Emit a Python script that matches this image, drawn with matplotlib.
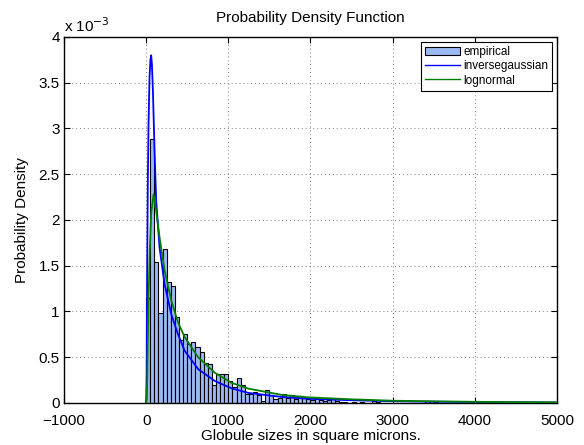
import numpy as np
import matplotlib
matplotlib.use('Agg')
import matplotlib.pyplot as plt
from matplotlib.patches import Patch
from matplotlib.lines import Line2D
from matplotlib.ticker import FuncFormatter

plt.rcParams['font.family'] = ['Liberation Sans', 'DejaVu Sans']

# histogram: bin width 50, starting at 0 (density, units 1e-3)
bin_width = 50
hist_heights = [1.15, 2.89, 1.54, 0.98, 1.68, 1.32, 1.28, 0.94, 0.69, 0.75,
                0.64, 0.67, 0.61, 0.56, 0.44, 0.43, 0.20, 0.32, 0.32, 0.32,
                0.24, 0.17, 0.27, 0.20, 0.095, 0.095, 0.12, 0.088, 0.02, 0.14,
                0.09, 0.04, 0.05, 0.10, 0.05, 0.09, 0.04, 0.08, 0.05, 0.04,
                0.03, 0.07, 0.03, 0.02, 0.03, 0.05, 0.02, 0.01, 0.01, 0.0,
                0.01, 0.0, 0.01, 0.0, 0.0, 0.02, 0.01, 0.0, 0.0, 0.0,
                0.0, 0.0, 0.0, 0.0, 0.0, 0.0, 0.0, 0.0, 0.02, 0.02, 0.01]

# fitted curves (x in square microns, y in 1e-3)
ig_x = [0, 6, 12, 20, 29, 41, 52, 61, 70, 82, 102, 122, 163, 224, 306, 388,
        469, 633, 837, 1041, 1245, 1653, 2000, 2500, 3000, 3500, 4000, 4500, 5000]
ig_y = [0, 0.3, 1.4, 2.4, 3.05, 3.56, 3.75, 3.80, 3.70, 3.42, 2.76, 2.21, 1.70,
        1.30, 0.97, 0.75, 0.57, 0.37, 0.24, 0.16, 0.11, 0.066, 0.045, 0.03,
        0.02, 0.014, 0.01, 0.008, 0.006]

ln_x = [0, 8, 14, 20, 30, 41, 61, 90, 122, 163, 224, 306, 388, 469, 633, 837,
        1041, 1245, 1653, 2000, 2500, 3000, 3500, 4000, 4500, 5000]
ln_y = [0, 0.05, 0.3, 0.68, 1.15, 1.59, 2.07, 2.28, 2.10, 1.81, 1.45, 1.12,
        0.88, 0.72, 0.50, 0.33, 0.22, 0.157, 0.088, 0.06, 0.04, 0.025, 0.018,
        0.013, 0.009, 0.007]

scale = 1e-3
edges = np.arange(len(hist_heights)) * bin_width
heights = np.array(hist_heights) * scale

fig = plt.figure(figsize=(5.84, 4.45), dpi=100)
ax = fig.add_axes([0.1096, 0.0944, 0.844, 0.8225])

ax.bar(edges, heights, width=bin_width, align='edge',
       facecolor='#9db9f5', edgecolor='black', linewidth=0.8, zorder=2)
ax.plot(ig_x, np.array(ig_y) * scale, color='#0000ff', lw=1.3, zorder=3)
ax.plot(ln_x, np.array(ln_y) * scale, color='#007f00', lw=1.3, zorder=3)

ax.set_xlim(-1000, 5000)
ax.set_ylim(0, 4e-3)
ax.set_xticks(np.arange(-1000, 5001, 1000))
ax.set_yticks(np.arange(0, 4.01e-3, 0.5e-3))
ax.yaxis.set_major_formatter(FuncFormatter(lambda v, p: '%g' % round(v / scale, 3)))
ax.xaxis.set_major_formatter(FuncFormatter(lambda v, p: ('%d' % v).replace('-', '\u2212')))
ax.tick_params(direction='in', top=True, right=True, labelsize=11, length=4, pad=3)
ax.tick_params(axis='x', pad=8)
ax.grid(True, linestyle=(0, (1, 3)), color='#808080', linewidth=0.7, zorder=0)
ax.set_axisbelow(True)
for s in ax.spines.values():
    s.set_linewidth(1.0)

ax.text(0.0, 1.005, 'x 10$^{-3}$', transform=ax.transAxes, fontsize=11,
        ha='left', va='bottom')
ax.set_title('Probability Density Function', fontsize=11, pad=11)
ax.set_xlabel('Globule sizes in square microns.', fontsize=11, labelpad=1)
ax.set_ylabel('Probability Density', fontsize=11, labelpad=7)

handles = [Patch(facecolor='#9db9f5', edgecolor='black', linewidth=0.8),
           Line2D([], [], color='#0000ff', lw=1.0),
           Line2D([], [], color='#007f00', lw=1.0)]
leg = ax.legend(handles, ['empirical', 'inversegaussian', 'lognormal'],
                loc='upper right', fontsize=8.5, fancybox=False, framealpha=1,
                edgecolor='black', borderaxespad=0.4, handlelength=2.9,
                handletextpad=0.3, labelspacing=0.2, borderpad=0.35)
leg.get_frame().set_linewidth(0.8)

fig.savefig('out.png', dpi=100)
